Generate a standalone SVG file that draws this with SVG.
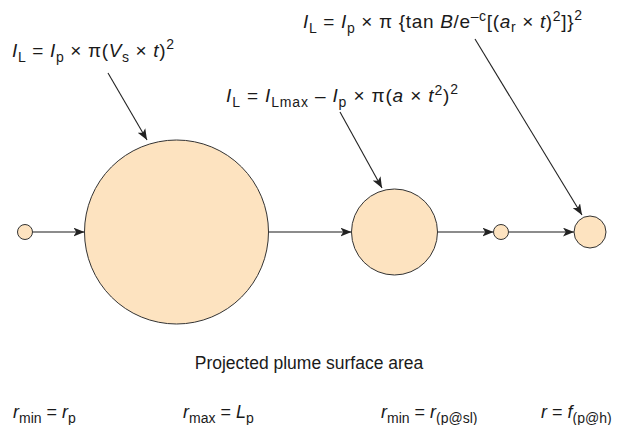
<svg xmlns="http://www.w3.org/2000/svg" width="617" height="425" viewBox="0 0 617 425">
<style>
text{font-family:"Liberation Sans",Arial,Helvetica,sans-serif;font-size:18px;fill:#1a1a1a}
.eq{font-size:19px}
.cap{font-size:17.5px}
.i{font-style:italic}
.s{font-size:14px}
.node{fill:#FDE3C0;stroke:#333;stroke-width:1}
.flow{stroke:#666;stroke-width:1.6;fill:none;marker-end:url(#ah)}
.ann{stroke:#222;stroke-width:1.1;fill:none;marker-end:url(#ah2)}
</style>
<defs>
<marker id="ah" viewBox="0 0 10 8" refX="10" refY="4" markerWidth="11" markerHeight="9" markerUnits="userSpaceOnUse" orient="auto">
<path d="M0,0 L10,4 L0,8 L2.5,4 Z" fill="#222"/>
</marker>
<marker id="ah2" viewBox="0 0 10 8" refX="10" refY="4" markerWidth="11" markerHeight="9" markerUnits="userSpaceOnUse" orient="auto">
<path d="M0,0 L10,4 L0,8 L2.5,4 Z" fill="#222"/>
</marker>
</defs>
<rect width="617" height="425" fill="#fff"/>
<g id="connectors">
<line class="flow" x1="32.5" y1="232" x2="84.5" y2="232"/>
<line class="flow" x1="268.5" y1="232" x2="351.5" y2="232"/>
<line class="flow" x1="437.5" y1="232" x2="493.5" y2="232"/>
<line class="flow" x1="508.5" y1="232" x2="574" y2="232"/>
<line class="ann" x1="108" y1="73" x2="147" y2="140"/>
<line class="ann" x1="340" y1="112" x2="382" y2="188"/>
<line class="ann" x1="475" y1="39" x2="582" y2="215"/>
</g>
<g id="n1"><circle class="node" cx="25" cy="232" r="7.5"/></g>
<g id="n2"><circle class="node" cx="176.5" cy="232" r="92"/></g>
<g id="n3"><circle class="node" cx="394.5" cy="232" r="43"/></g>
<g id="n4"><circle class="node" cx="501" cy="232" r="7.5"/></g>
<g id="n5"><circle class="node" cx="590" cy="232" r="16"/></g>
<g id="eq1"><text class="eq" x="12" y="57" textLength="162" lengthAdjust="spacing"><tspan class="i">I</tspan><tspan class="s" dy="5">L</tspan><tspan dy="-5"> = </tspan><tspan class="i">I</tspan><tspan class="s" dy="5">p</tspan><tspan dy="-5"> × π(</tspan><tspan class="i">V</tspan><tspan class="s" dy="5">s</tspan><tspan dy="-5"> × </tspan><tspan class="i">t</tspan><tspan>)</tspan><tspan class="s" dy="-8">2</tspan></text></g>
<g id="eq2"><text class="eq" x="226" y="102" textLength="232" lengthAdjust="spacing"><tspan class="i">I</tspan><tspan class="s" dy="5">L</tspan><tspan dy="-5"> = </tspan><tspan class="i">I</tspan><tspan class="s" dy="5">Lmax</tspan><tspan dy="-5"> – </tspan><tspan class="i">I</tspan><tspan class="s" dy="5">p</tspan><tspan dy="-5"> × π(</tspan><tspan class="i">a</tspan><tspan> × </tspan><tspan class="i">t</tspan><tspan class="s" dy="-7">2</tspan><tspan dy="7">)</tspan><tspan class="s" dy="-8">2</tspan></text></g>
<g id="eq3"><text class="eq" x="303" y="28" textLength="279" lengthAdjust="spacing"><tspan class="i">I</tspan><tspan class="s" dy="5">L</tspan><tspan dy="-5"> = </tspan><tspan class="i">I</tspan><tspan class="s" dy="5">p</tspan><tspan dy="-5"> × π {tan </tspan><tspan class="i">B</tspan><tspan>/e</tspan><tspan class="s" dy="-7">–c</tspan><tspan dy="7">[(</tspan><tspan class="i">a</tspan><tspan class="s" dy="4">r</tspan><tspan dy="-4"> × </tspan><tspan class="i">t</tspan><tspan>)</tspan><tspan class="s" dy="-7">2</tspan><tspan dy="7">]}</tspan><tspan class="s" dy="-8">2</tspan></text></g>
<g id="caption"><text class="cap" x="309" y="369" text-anchor="middle">Projected plume surface area</text></g>
<g id="radii">
<text x="13" y="418"><tspan class="i">r</tspan><tspan class="s" dy="5">min</tspan><tspan dy="-5"> = </tspan><tspan class="i">r</tspan><tspan class="s" dy="5">p</tspan></text>
<text x="183" y="418"><tspan class="i">r</tspan><tspan class="s" dy="5">max</tspan><tspan dy="-5"> = </tspan><tspan class="i">L</tspan><tspan class="s" dy="5">p</tspan></text>
<text x="381" y="418"><tspan class="i">r</tspan><tspan class="s" dy="5">min</tspan><tspan dy="-5"> = </tspan><tspan class="i">r</tspan><tspan class="s" dy="5">(p@sl)</tspan></text>
<text x="541" y="418"><tspan class="i">r</tspan><tspan> = </tspan><tspan class="i">f</tspan><tspan class="s" dy="5">(p@h)</tspan></text>
</g>
</svg>
